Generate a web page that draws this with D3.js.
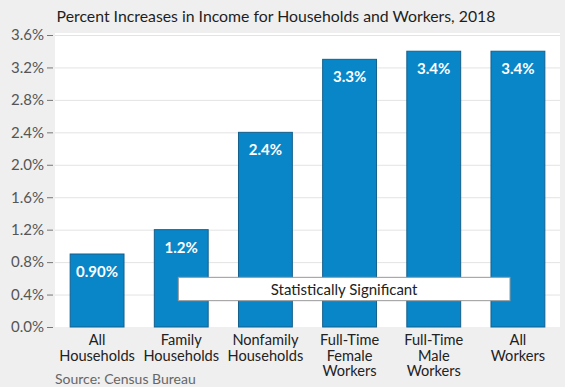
<!DOCTYPE html>
<html>
<head>
<meta charset="utf-8">
<script src="https://cdn.jsdelivr.net/npm/d3@7"></script>
<style>
  body { margin: 0; background: #efefef; }
  svg { display: block; font-family: Lato, "Open Sans", sans-serif; }
</style>
</head>
<body>
<div id="chart"></div>
<script>
// data
var categories = [
  ["All", "Households"],
  ["Family", "Households"],
  ["Nonfamily", "Households"],
  ["Full-Time", "Female", "Workers"],
  ["Full-Time", "Male", "Workers"],
  ["All", "Workers"]
];
var values = [0.9, 1.2, 2.4, 3.3, 3.4, 3.4];
var valueLabels = ["0.90%", "1.2%", "2.4%", "3.3%", "3.4%", "3.4%"];
var yTicks = [0, 0.4, 0.8, 1.2, 1.6, 2.0, 2.4, 2.8, 3.2, 3.6];
var title = "Percent Increases in Income for Households and Workers, 2018";
var source = "Source: Census Bureau";
var noteText = "Statistically Significant";

var width = 565, height = 387;
var margin = { top: 35, right: 5, bottom: 60, left: 55 };

var svg = d3.select("#chart").append("svg")
  .attr("width", width)
  .attr("height", height);

svg.append("rect")
  .attr("width", width).attr("height", height)
  .attr("fill", "#efefef");

var x = d3.scaleBand()
  .domain(d3.range(categories.length))
  .range([margin.left, width - margin.right])
  .paddingInner(0.36)
  .paddingOuter(0.18);

var y = d3.scaleLinear()
  .domain([0, 3.6])
  .range([height - margin.bottom, margin.top]);

// plot background
svg.append("rect")
  .attr("x", margin.left)
  .attr("y", y(3.6) - 2)
  .attr("width", width - margin.right - margin.left)
  .attr("height", y(0) - y(3.6) + 2)
  .attr("fill", "#fff");

// gridlines
svg.append("g").selectAll("line")
  .data(yTicks.filter(function(d) { return d > 0; }))
  .enter().append("line")
    .attr("x1", margin.left)
    .attr("x2", width - margin.right)
    .attr("y1", function(d) { return y(d) + 0.5; })
    .attr("y2", function(d) { return y(d) + 0.5; })
    .attr("stroke", "#e3e3e3")
    .attr("stroke-width", 1);

// y axis
var yAxis = d3.axisLeft(y)
  .tickValues(yTicks)
  .tickSize(6)
  .tickPadding(3)
  .tickFormat(function(d) { return d3.format(".1f")(d) + "%"; });

var ya = svg.append("g")
  .attr("transform", "translate(" + (margin.left - 2) + ",0)")
  .call(yAxis);
ya.select(".domain").remove();
ya.selectAll(".tick line").attr("stroke", "#777");
ya.selectAll(".tick text")
  .attr("fill", "#555")
  .style("font-size", "15px")
  .style("font-family", "Lato, sans-serif");

// bars
svg.append("g").selectAll("rect")
  .data(values)
  .enter().append("rect")
    .attr("x", function(d, i) { return x(i); })
    .attr("y", function(d) { return y(d); })
    .attr("width", x.bandwidth())
    .attr("height", function(d) { return y(0) - y(d); })
    .attr("fill", "#0986c8")
    .attr("stroke", "#155f8c")
    .attr("stroke-width", 1);

// value labels
svg.append("g").selectAll("text")
  .data(values)
  .enter().append("text")
    .attr("x", function(d, i) { return x(i) + x.bandwidth() / 2; })
    .attr("y", function(d) { return y(d) + 23; })
    .attr("text-anchor", "middle")
    .attr("fill", "#fff")
    .style("font-size", "15px")
    .style("font-weight", "bold")
    .text(function(d, i) { return valueLabels[i]; });

// significance box
var boxX0 = x(1) + 24, boxX1 = x(5) + 19;
svg.append("rect")
  .attr("x", boxX0)
  .attr("y", y(0.6) - 1)
  .attr("width", boxX1 - boxX0)
  .attr("height", y(0.3) - y(0.6) - 1)
  .attr("fill", "#fff")
  .attr("stroke", "#999")
  .attr("stroke-width", 1);
svg.append("text")
  .attr("x", (boxX0 + boxX1) / 2)
  .attr("y", (y(0.6) + y(0.3)) / 2 + 4.5)
  .attr("text-anchor", "middle")
  .attr("fill", "#222")
  .style("font-size", "15px")
  .text(noteText);

// category labels, one text per line
svg.append("g").selectAll("g")
  .data(categories)
  .enter().append("g")
  .each(function(lines, i) {
    d3.select(this).selectAll("text")
      .data(lines)
      .enter().append("text")
        .attr("x", x(i) + x.bandwidth() / 2)
        .attr("y", function(d, j) { return y(0) + 18 + j * 15.5; })
        .attr("text-anchor", "middle")
        .attr("fill", "#222")
        .style("font-size", "14.6px")
        .text(function(d) { return d; });
  });

// title
svg.append("text")
  .attr("x", 276)
  .attr("y", 22)
  .attr("text-anchor", "middle")
  .attr("fill", "#1e1e1e")
  .style("font-size", "15.8px")
  .text(title);

// source
svg.append("text")
  .attr("x", 55)
  .attr("y", 384)
  .attr("fill", "#666")
  .style("font-size", "14px")
  .text(source);
</script>
</body>
</html>
